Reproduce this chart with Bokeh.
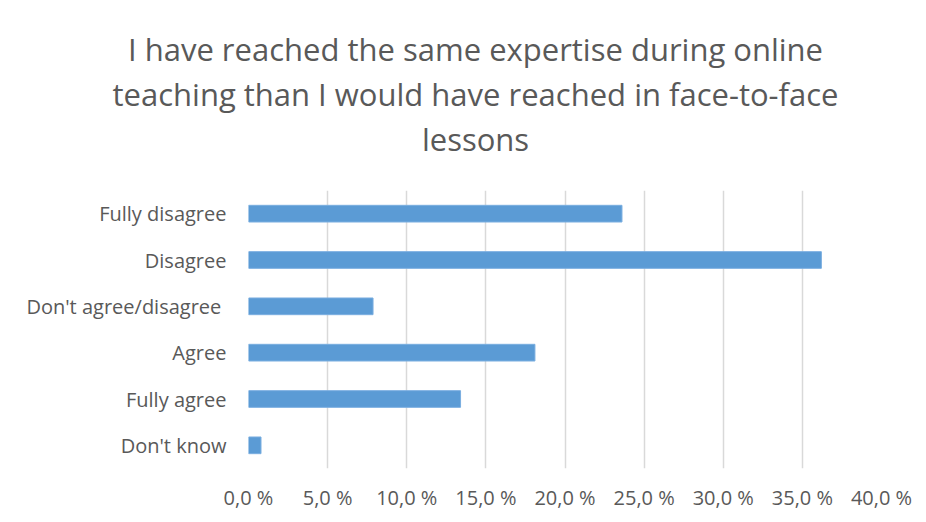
from bokeh.plotting import figure
from bokeh.layouts import column
from bokeh.models import FixedTicker, ColumnDataSource, Range1d
from bokeh.core.properties import value
from bokeh.embed import file_html
from bokeh.resources import INLINE

categories = ["Fully disagree", "Disagree", "Don't agree/disagree ", "Agree", "Fully agree", "Don't know"]
shares = [0.236, 0.362, 0.0787, 0.181, 0.134, 0.0079]
tick_values = [0.0, 0.05, 0.10, 0.15, 0.20, 0.25, 0.30, 0.35, 0.40]
tick_labels = ["0,0 %", "5,0 %", "10,0 %", "15,0 %", "20,0 %", "25,0 %", "30,0 %", "35,0 %", "40,0 %"]
title_lines = ["I have reached the same expertise during online",
               "teaching than I would have reached in face-to-face",
               "lessons"]

FONT = "Open Sans"
GREY = "#595959"
W, H_TOP, H_BOT = 926, 190, 332

# --- title strip (pixel-space figure) ---
t = figure(width=W, height=H_TOP, x_range=Range1d(0, W), y_range=Range1d(H_TOP, 0),
           output_backend="svg", toolbar_location=None, tools="",
           min_border=0, min_border_left=0, min_border_right=0, min_border_top=0, min_border_bottom=0)
t.frame_align = False
t.axis.visible = False
t.grid.visible = False
t.outline_line_color = None
t.title.visible = False
t.text(x=[W / 2 + 12] * 3, y=[48, 93, 138], text=title_lines, text_align="center",
       text_baseline="middle", text_font=value(FONT), text_font_size="31px", text_color=GREY)

# --- bar chart ---
src = ColumnDataSource(dict(cat=categories, val=shares))
p = figure(width=W, height=H_BOT, y_range=list(reversed(categories)), x_range=(0, 0.4),
           output_backend="svg", toolbar_location=None, tools="",
           min_border_left=248, min_border_right=45, min_border_bottom=54, min_border_top=0)
p.frame_align = False
p.title.visible = False

p.hbar(y="cat", right="val", left=0, height=0.36, source=src, color="#5b9bd5",
       line_color="#7aaee0", line_width=1)

p.xaxis.ticker = FixedTicker(ticks=tick_values)
p.xaxis.major_label_overrides = {v: l for v, l in zip(tick_values, tick_labels)}
for ax in (p.xaxis[0], p.yaxis[0]):
    ax.axis_line_color = None
    ax.major_tick_line_color = None
    ax.minor_tick_line_color = None
    ax.major_label_text_font = FONT
    ax.major_label_text_font_size = "20px"
    ax.major_label_text_color = GREY
p.xaxis.major_label_standoff = 9
p.yaxis.major_label_standoff = 16

p.xgrid.grid_line_color = "#d9d9d9"
p.xgrid.grid_line_width = 1.5
p.xgrid.ticker = FixedTicker(ticks=tick_values)
p.ygrid.grid_line_color = None
p.outline_line_color = None
p.background_fill_color = "white"
p.border_fill_color = "white"

layout = column(t, p, spacing=0)
open("out.html", "w").write(file_html(layout, INLINE))
